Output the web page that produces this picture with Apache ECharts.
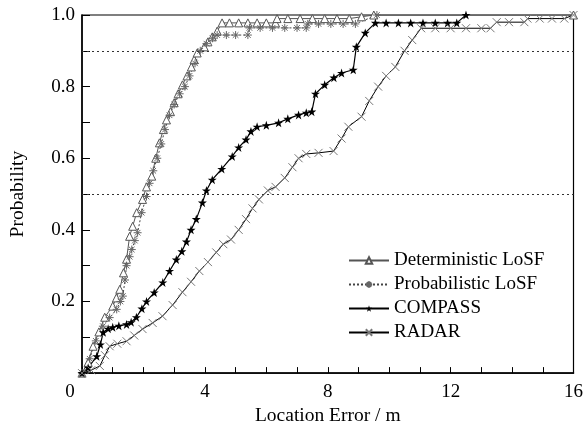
<!DOCTYPE html>
<html><head><meta charset="utf-8">
<script src="https://cdn.jsdelivr.net/npm/echarts@6/dist/echarts.min.js"></script>
<style>html,body{margin:0;padding:0;background:#fff}#c{width:586px;height:431px}</style>
</head><body><div id="c"></div>
<script>
const seriesNames = ['Deterministic LoSF','Probabilistic LoSF','COMPASS','RADAR'];
const xTicks = [0,4,8,12,16];
const yTicks = [0.2,0.4,0.6,0.8,1.0];
const refLines = [0.5,0.9];

const deterministic = [[0,0],[0.2,0.03],[0.36,0.075],[0.55,0.115],[0.74,0.156],[1.0,0.187],[1.12,0.21],[1.23,0.234],[1.35,0.28],[1.45,0.318],[1.55,0.382],[1.65,0.41],[1.78,0.448],[1.97,0.485],[2.1,0.52],[2.27,0.55],[2.4,0.6],[2.52,0.643],[2.65,0.68],[2.75,0.707],[2.88,0.73],[3.0,0.755],[3.13,0.78],[3.27,0.805],[3.42,0.83],[3.56,0.855],[3.65,0.875],[3.75,0.894],[3.98,0.911],[4.1,0.925],[4.24,0.939],[4.4,0.955],[4.56,0.978],[4.8,0.978],[5.1,0.978],[5.4,0.978],[5.7,0.978],[6.0,0.978],[6.3,0.978],[6.35,0.99],[6.7,0.99],[7.1,0.99],[7.5,0.99],[7.9,0.99],[8.3,0.99],[8.7,0.99],[9.1,0.995],[9.5,1.0],[16,1.0]];
const probabilistic = [[0,0],[0.25,0.04],[0.45,0.09],[0.68,0.131],[0.9,0.155],[1.13,0.178],[1.25,0.2],[1.33,0.215],[1.4,0.26],[1.45,0.3],[1.55,0.325],[1.62,0.345],[1.72,0.37],[1.81,0.392],[1.94,0.448],[2.1,0.493],[2.2,0.53],[2.32,0.565],[2.45,0.6],[2.58,0.64],[2.7,0.68],[2.85,0.72],[3.0,0.75],[3.18,0.78],[3.35,0.8],[3.5,0.83],[3.68,0.865],[3.85,0.9],[4.05,0.92],[4.25,0.935],[4.4,0.944],[4.7,0.944],[5.0,0.944],[5.4,0.944],[5.45,0.964],[5.8,0.964],[6.2,0.964],[6.6,0.964],[7.0,0.964],[7.3,0.964],[7.35,0.975],[7.7,0.975],[8.1,0.975],[8.5,0.975],[8.9,0.975],[9.6,1.0]];
const compass = [[0,0],[0.2,0.015],[0.48,0.047],[0.6,0.08],[0.69,0.114],[0.85,0.124],[1.0,0.128],[1.2,0.132],[1.45,0.136],[1.6,0.142],[1.77,0.156],[1.95,0.18],[2.1,0.2],[2.35,0.225],[2.63,0.253],[2.85,0.285],[3.07,0.317],[3.25,0.34],[3.4,0.367],[3.55,0.4],[3.72,0.43],[3.92,0.476],[4.05,0.51],[4.24,0.54],[4.55,0.57],[4.89,0.605],[5.1,0.63],[5.34,0.652],[5.5,0.675],[5.7,0.688],[6.0,0.692],[6.4,0.699],[6.7,0.71],[7.05,0.721],[7.3,0.727],[7.48,0.73],[7.6,0.78],[7.9,0.805],[8.2,0.825],[8.45,0.838],[8.83,0.847],[8.93,0.911],[9.22,0.95],[9.55,0.978],[9.9,0.978],[10.3,0.978],[10.7,0.978],[11.1,0.978],[11.5,0.978],[11.9,0.978],[12.2,0.978],[12.5,1.0]];
const radar = [[0,0],[0.3,0.008],[0.58,0.02],[0.75,0.05],[0.9,0.075],[1.15,0.082],[1.45,0.089],[1.7,0.105],[1.97,0.123],[2.3,0.14],[2.62,0.159],[2.95,0.19],[3.27,0.226],[3.55,0.255],[3.82,0.285],[4.1,0.31],[4.37,0.337],[4.6,0.36],[4.85,0.373],[5.1,0.4],[5.34,0.43],[5.55,0.46],[5.76,0.485],[6.05,0.51],[6.3,0.52],[6.6,0.545],[6.85,0.575],[7.05,0.6],[7.3,0.612],[7.7,0.615],[8.19,0.62],[8.45,0.655],[8.67,0.688],[9.1,0.716],[9.35,0.76],[9.64,0.8],[9.9,0.83],[10.2,0.855],[10.5,0.9],[10.75,0.93],[11.04,0.963],[11.5,0.963],[12.0,0.963],[12.5,0.963],[13.0,0.963],[13.3,0.963],[13.5,0.98],[13.9,0.98],[14.4,0.98],[14.5,0.99],[14.9,0.99],[15.3,0.99],[15.7,0.99],[16,1.0]];

const FONT = '"Liberation Serif", "DejaVu Serif", serif';
const starPath = 'path://M50,0L61.8,35.1L98.9,35.1L68.9,56.9L80.3,92.1L50,70.3L19.7,92.1L31.1,56.9L1.1,35.1L38.2,35.1Z';
const asteriskPath = 'path://M5,0L5,10M0,5L10,5M1.5,1.5L8.5,8.5M8.5,1.5L1.5,8.5';
const crossPath = 'path://M0,0L10,10M10,0L0,10';

const chart = echarts.init(document.getElementById('c'));
chart.setOption({
  animation: false,
  backgroundColor: '#fff',
  grid: {left: 82, right: 10, top: 15, bottom: 57, show: true, borderColor: '#000', borderWidth: 1.2},
  legend: {
    orient: 'vertical', left: 343, top: 246, itemWidth: 40, itemHeight: 8, itemGap: 5,
    textStyle: {fontFamily: FONT, fontSize: 19, color: '#000'},
    data: seriesNames
  },
  xAxis: {
    type: 'value', min: 0, max: 16, interval: 1,
    name: 'Location Error / m', nameLocation: 'middle', nameGap: 32,
    nameTextStyle: {fontFamily: FONT, fontSize: 19.5, color: '#000'},
    axisLine: {lineStyle: {color: '#000', width: 1.5}},
    axisTick: {inside: true, length: 6, lineStyle: {color: '#000'}},
    splitLine: {show: false},
    axisLabel: {
      fontFamily: FONT, fontSize: 19, color: '#000', margin: 9,
      formatter: v => {
        if (v === 0) return '{o|0}';
        return xTicks.indexOf(v) >= 0 ? String(v) : '';
      },
      rich: {o: {fontFamily: FONT, fontSize: 19, color: '#000', padding: [0, 24, 0, 0]}}
    }
  },
  yAxis: {
    type: 'value', min: 0, max: 1, interval: 0.1,
    name: 'Probability', nameLocation: 'middle', nameGap: 54, nameRotate: 90,
    nameTextStyle: {fontFamily: FONT, fontSize: 19.5, color: '#000'},
    axisLine: {lineStyle: {color: '#000', width: 1.5}},
    axisTick: {inside: true, length: 8, lineStyle: {color: '#000'}},
    splitLine: {show: false},
    axisLabel: {
      fontFamily: FONT, fontSize: 19, color: '#000', margin: 7,
      formatter: v => {
        const r = Math.round(v * 10) / 10;
        return yTicks.some(t => Math.abs(t - r) < 1e-6) ? r.toFixed(1) : '';
      }
    }
  },
  series: [
    {
      name: seriesNames[0], type: 'line', data: deterministic,
      symbol: 'triangle', symbolSize: 8,
      lineStyle: {color: '#555', width: 1},
      itemStyle: {color: '#fff', borderColor: '#555', borderWidth: 1},
      markLine: {
        silent: true, symbol: 'none', label: {show: false},
        lineStyle: {color: '#333', type: [2, 3], width: 1},
        data: refLines.map(v => ({yAxis: v}))
      }
    },
    {
      name: seriesNames[1], type: 'line', data: probabilistic,
      symbol: asteriskPath, symbolSize: 8,
      lineStyle: {color: '#444', width: 1, type: [2, 2]},
      itemStyle: {color: 'none', borderColor: '#666', borderWidth: 1}
    },
    {
      name: seriesNames[2], type: 'line', data: compass,
      symbol: starPath, symbolSize: 9,
      lineStyle: {color: '#000', width: 1.2},
      itemStyle: {color: '#000', borderColor: '#000', borderWidth: 0}
    },
    {
      name: seriesNames[3], type: 'line', data: radar,
      symbol: crossPath, symbolSize: 8,
      lineStyle: {color: '#000', width: 1},
      itemStyle: {color: 'none', borderColor: '#777', borderWidth: 1}
    }
  ]
});
</script></body></html>
